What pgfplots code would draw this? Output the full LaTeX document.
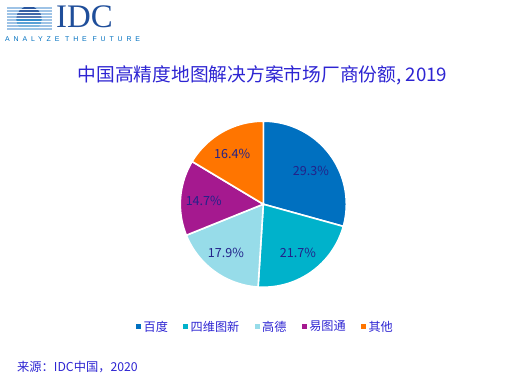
\documentclass[border=0pt]{standalone}
\usepackage{pgfplots}
\pgfplotsset{compat=1.18}
\usepackage{fontspec}
\setmainfont{Noto Sans CJK SC}
\newfontfamily\cjk{Noto Sans CJK SC}
\newfontfamily\logoserif{Liberation Serif}
\newfontfamily\logosans[LetterSpace=55]{Liberation Sans}
\definecolor{cBaidu}{HTML}{0070C0}
\definecolor{cSiwei}{HTML}{00B2CB}
\definecolor{cGaode}{HTML}{97DCE9}
\definecolor{cYitu}{HTML}{A5198F}
\definecolor{cOther}{HTML}{FF7500}
\definecolor{txt}{HTML}{2D24D2}
\definecolor{lab}{HTML}{22228A}
\definecolor{logoblue}{HTML}{1F4E9A}
\definecolor{logolight}{HTML}{9EC3E6}
% shares (%)
\def\vA{29.3}\def\vB{21.7}\def\vC{17.9}\def\vD{14.7}\def\vE{16.4}
\pgfmathsetmacro\aA{90}
\pgfmathsetmacro\aB{\aA-3.6*\vA}
\pgfmathsetmacro\aC{\aB-3.6*\vB}
\pgfmathsetmacro\aD{\aC-3.6*\vC}
\pgfmathsetmacro\aE{\aD-3.6*\vD}
\pgfmathsetmacro\aF{\aE-3.6*\vE}
\pgfmathsetmacro\mA{(\aA+\aB)/2}
\pgfmathsetmacro\mB{(\aB+\aC)/2}
\pgfmathsetmacro\mC{(\aC+\aD)/2}
\pgfmathsetmacro\mD{(\aD+\aE)/2}
\pgfmathsetmacro\mE{(\aE+\aF)/2}
\def\lr{0.72}
\begin{document}
\begin{tikzpicture}[x=1bp,y=1bp]
\path (0,0) rectangle (524,377);
% IDC logo
\begin{scope}
\foreach \yy/\cc in {8/logolight,11/logolight,14/logolight,17/logolight,20/logolight,23/logolight,26/logolight,29/logolight}{
  \fill[\cc] (7,377-\yy-0.9) rectangle (52,377-\yy+0.9);
}
\clip (29,377-19) circle (12.8);
\foreach \yy/\cc in {8/{logoblue!95},11/{logoblue!90},14/{logoblue!85},17/{logoblue!75},20/{cBaidu!80},23/{cBaidu!65},26/{cBaidu!50},29/{cBaidu!40}}{
  \fill[\cc] (7,377-\yy-1.1) rectangle (52,377-\yy+1.1);
}
\end{scope}
\node[anchor=base west, inner sep=0, text=logoblue, font=\logoserif\fontsize{33}{33}\selectfont] at (56,377-27) {IDC};
\node[anchor=base west, inner sep=0, text=cBaidu, font=\logosans\fontsize{7}{7}\selectfont] at (5,377-41) {ANALYZE THE FUTURE};
% title
\node[text=txt, font=\cjk\fontsize{18.8}{18.8}\selectfont, inner sep=0] at (262.5,377-75) {中国高精度地图解决方案市场厂商份额, 2019};
% source
\node[anchor=west, text=txt, font=\cjk\fontsize{12.3}{12.3}\selectfont, inner sep=0] at (17,377-367) {来源：IDC中国，2020};
\begin{axis}[
  at={(263.3bp,172.8bp)}, anchor=origin,
  x=83bp, y=83bp,
  xmin=-1, xmax=1, ymin=-1, ymax=1,
  hide axis, clip=false,
  legend columns=-1,
  legend style={at={(0.514,-0.238)}, anchor=center, draw=none, fill=none,
    font=\cjk\fontsize{12.2}{12.2}\selectfont, text=txt,
    /tikz/every even column/.append style={column sep=13bp},
    nodes={inner sep=2.3bp}},
  legend image code/.code={\path[#1, draw=none] (0bp,-2.6bp) rectangle (5.2bp,2.6bp);},
  every axis plot/.append style={draw=white, line width=1.6bp, samples=90},
]
\addplot[fill=cBaidu, domain=\aB:\aA, variable=\t] ({cos(\t)},{sin(\t)}) -- (axis cs:0,0) -- cycle;
\addlegendentry{百度}
\addplot[fill=cSiwei, domain=\aC:\aB, variable=\t] ({cos(\t)},{sin(\t)}) -- (axis cs:0,0) -- cycle;
\addlegendentry{四维图新}
\addplot[fill=cGaode, domain=\aD:\aC, variable=\t] ({cos(\t)},{sin(\t)}) -- (axis cs:0,0) -- cycle;
\addlegendentry{高德}
\addplot[fill=cYitu, domain=\aE:\aD, variable=\t] ({cos(\t)},{sin(\t)}) -- (axis cs:0,0) -- cycle;
\addlegendentry{易图通}
\addplot[fill=cOther, domain=\aF:\aE, variable=\t] ({cos(\t)},{sin(\t)}) -- (axis cs:0,0) -- cycle;
\addlegendentry{其他}
\pgfmathsetmacro\xA{\lr*cos(\mA)}\pgfmathsetmacro\yA{\lr*sin(\mA)-0.04}
\pgfmathsetmacro\xB{\lr*cos(\mB)}\pgfmathsetmacro\yB{\lr*sin(\mB)}
\pgfmathsetmacro\xC{\lr*cos(\mC)-0.03}\pgfmathsetmacro\yC{\lr*sin(\mC)}
\pgfmathsetmacro\xD{\lr*cos(\mD)}\pgfmathsetmacro\yD{\lr*sin(\mD)-0.02}
\pgfmathsetmacro\xE{\lr*cos(\mE)-0.02}\pgfmathsetmacro\yE{\lr*sin(\mE)-0.02}
\begin{scope}[every node/.style={text=lab, font=\cjk\fontsize{12.6}{12.6}\selectfont, inner sep=0}]
\node at (axis cs:\xA,\yA) {\vA\%};
\node at (axis cs:\xB,\yB) {\vB\%};
\node at (axis cs:\xC,\yC) {\vC\%};
\node at (axis cs:\xD,\yD) {\vD\%};
\node at (axis cs:\xE,\yE) {\vE\%};
\end{scope}
\end{axis}
\end{tikzpicture}
\end{document}
